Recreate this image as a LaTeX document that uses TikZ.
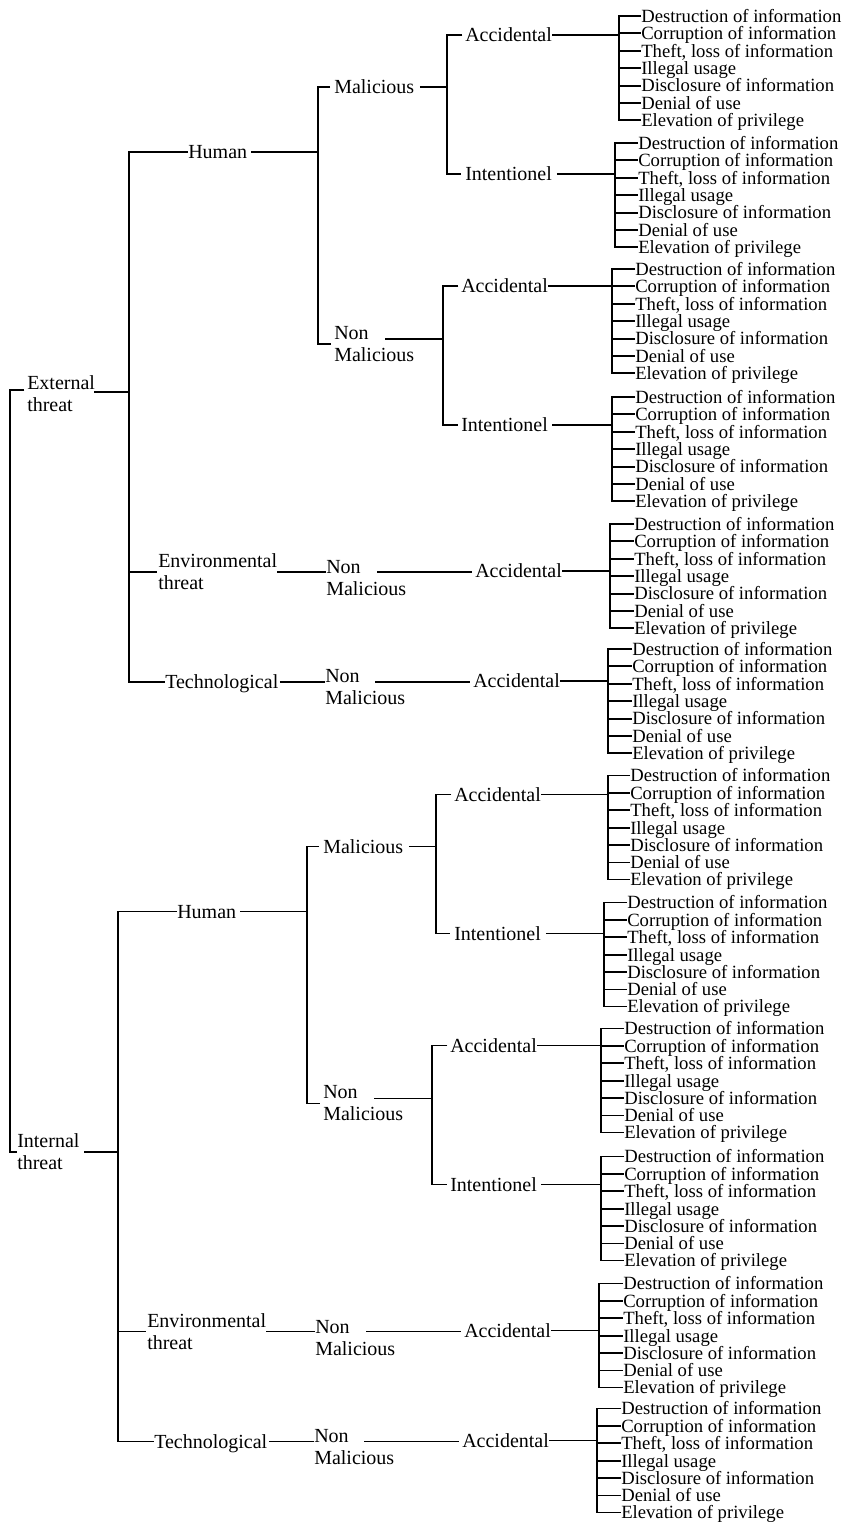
\documentclass[tikz,border=0pt]{standalone}
\usepackage{fontspec}
\setmainfont{Liberation Serif}

% Units: one step = 0.75pt, y grows downwards
\tikzset{
  x=0.75pt, y=-0.75pt,
  conn/.style={line width=1.4pt, line join=miter},
  mid/.style={font=\fontsize{15}{16.5}\selectfont, anchor=west, inner sep=0pt,
              text height=10pt, text depth=0pt},
  two/.style={font=\fontsize{15}{16.5}\selectfont, anchor=west, inner sep=0pt, align=left},
  leaf/.style={font=\fontsize{14}{14}\selectfont, anchor=west, inner sep=0pt,
               text height=9.5pt, text depth=0pt},
}

% Seven consequences hanging from a parent node
% #1 parent node, #2 bus x, #3 top y, #4 text x, #5 gap after parent
\newcommand\leafset[5]{%
  \coordinate (#1-bus) at (#2,#3);
  \foreach \dy/\txt [count=\k] in {0/Destruction of information,
      17.4/Corruption of information, {34.8/Theft, loss of information},
      52.2/Illegal usage, 69.6/Disclosure of information,
      87/Denial of use, 104/Elevation of privilege}
    {\node[leaf] (#1-l\k) at (#4,#3+\dy) {\txt};}
  \draw[conn] (#1-l1.west) -- (#1-bus |- #1-l1.west) -- (#1-bus |- #1-l7.west) -- (#1-l7.west);
  \foreach \k in {2,...,6} {\draw[conn] (#1-bus |- #1-l\k.west) -- (#1-l\k.west);}
  \draw[conn] ([xshift=#5]#1.east) -- (#1.east -| #1-bus);
}

% One threat source: human, environmental and technological branches
\newcommand\threatbranch[1]{%
  \coordinate (#1-b1) at (129,152);
  \node[mid] (#1-hum) at (188,152) {Human};
  \node[two] (#1-env) at (158,572) {Environmental\\threat};
  \node[mid] (#1-tec) at (165,682) {Technological};
  \draw[conn] (#1-hum.west) -- (#1-b1) -- (#1-b1 |- #1-tec.west) -- (#1-tec.west);
  \draw[conn] (#1-b1 |- #1-env.west) -- ([xshift=-1pt]#1-env.west);
  % human: malicious / non malicious
  \coordinate (#1-b2) at (318,152);
  \node[mid] (#1-mal) at (334,87) {Malicious};
  \node[two] (#1-nm) at (334,344) {Non\\Malicious};
  \draw[conn] ([xshift=3pt]#1-hum.east) -- (#1-b2);
  \draw[conn] ([xshift=-3pt]#1-mal.west) -- (#1-b2 |- #1-mal.west) -- (#1-b2 |- #1-nm.west)
              -- ([xshift=-2pt]#1-nm.west);
  % malicious: accidental / intentional
  \coordinate (#1-b3) at (447,0);
  \node[mid] (#1-ma) at (465,35) {Accidental};
  \node[mid] (#1-mi) at (465,174) {Intentionel};
  \draw[conn] ([xshift=4pt]#1-mal.east) -- (#1-b3 |- #1-mal.east);
  \draw[conn] ([xshift=-2pt]#1-ma.west) -- (#1-b3 |- #1-ma.west) -- (#1-b3 |- #1-mi.west)
              -- ([xshift=-3pt]#1-mi.west);
  % non malicious: accidental / intentional
  \coordinate (#1-nm-out) at (385,339);
  \coordinate (#1-b4) at (443,0);
  \node[mid] (#1-na) at (461,286) {Accidental};
  \node[mid] (#1-ni) at (461,425) {Intentionel};
  \draw[conn] (#1-nm-out) -- (#1-b4 |- #1-nm-out);
  \draw[conn] ([xshift=-2pt]#1-na.west) -- (#1-b4 |- #1-na.west) -- (#1-b4 |- #1-ni.west)
              -- ([xshift=-2pt]#1-ni.west);
  % environmental chain
  \node[two] (#1-enm) at (326,578.5) {Non\\Malicious};
  \coordinate (#1-enm-out) at (377,572);
  \node[mid] (#1-ea) at (475,571) {Accidental};
  \draw[conn] (#1-env.east) -- (#1-env.east -| #1-enm.west);
  \draw[conn] (#1-enm-out) -- ([xshift=-2pt]#1-ea.west |- #1-enm-out);
  % technological chain
  \node[two] (#1-tnm) at (325,687.5) {Non\\Malicious};
  \coordinate (#1-tnm-out) at (375,682);
  \node[mid] (#1-ta) at (473,681) {Accidental};
  \draw[conn] ([xshift=1pt]#1-tec.east) -- (#1-tec.east -| #1-tnm.west);
  \draw[conn] (#1-tnm-out) -- ([xshift=-2pt]#1-ta.west |- #1-tnm-out);
  % consequences
  \leafset{#1-ma}{619}{16}{641}{0pt}
  \leafset{#1-mi}{615}{143}{638}{3.5pt}
  \leafset{#1-na}{612}{269}{635}{0pt}
  \leafset{#1-ni}{612}{397}{635}{3pt}
  \leafset{#1-ea}{610}{524}{634}{0pt}
  \leafset{#1-ta}{608}{649}{632}{0pt}
}

\begin{document}
\begin{tikzpicture}
  \useasboundingbox (0,0) rectangle (844,1523);

  % root: external and internal threats
  \coordinate (rootbus) at (10,0);
  \node[two] (ext) at (27,394) {External\\threat};
  \node[two] (int) at (17,1152) {Internal\\threat};
  \draw[conn] ([xshift=-2pt,yshift=3pt]ext.west) -| (rootbus |- int.west) -- (int.west);

  \threatbranch{ext}
  \begin{scope}[shift={(-11,759.5)}]
    \threatbranch{int}
  \end{scope}

  \coordinate (ext-out) at (94,392);
  \coordinate (int-out) at (84,1152);
  \draw[conn] (ext-out) -- (ext-out -| ext-b1);
  \draw[conn] (int-out) -- (int-out -| int-b1);
\end{tikzpicture}
\end{document}
